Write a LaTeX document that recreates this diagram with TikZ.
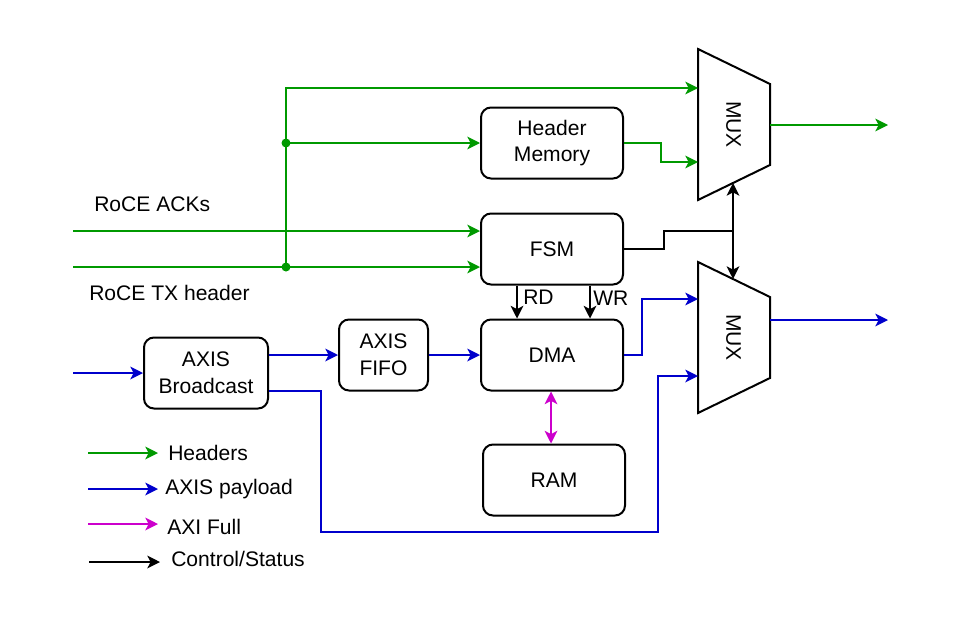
\documentclass[tikz,border=0pt]{standalone}
\usepackage{fontspec}
\setmainfont{Liberation Sans}
\usetikzlibrary{arrows.meta,calc}

\definecolor{hdrgreen}{RGB}{0,153,0}
\definecolor{payblue}{RGB}{0,0,204}
\definecolor{aximag}{RGB}{204,0,204}

\tikzset{
  >={Stealth[length=9.5pt,width=9.5pt,inset=2.5pt]},
  blk/.style={draw, rounded corners=7.5pt, line width=1.5pt, align=center,
    minimum width=106.5pt, minimum height=53.25pt, font=\fontsize{15.8}{20}\selectfont},
  lbl/.style={inner sep=0.75pt, font=\fontsize{15.8}{20}\selectfont},
  hdr/.style={draw=hdrgreen, line width=1.5pt},
  pay/.style={draw=payblue, line width=1.5pt},
  axi/.style={draw=aximag, line width=1.5pt},
  ctl/.style={draw=black, line width=1.5pt},
}

\begin{document}
\begin{tikzpicture}[x=0.75pt,y=0.75pt,yscale=-1,xscale=1]
\useasboundingbox (0,0) rectangle (962,639);

% Blocks
\node [blk] (hdrmem) at (552,143) {Header\\Memory};
\node [blk] (fsm) at (552,249) {FSM};
\node [blk] (dma) at (552,355) {DMA};
\node [blk] (ram) at (554,480) {RAM};
\node [blk, minimum width=66.75pt] (fifo) at (383.5,355) {AXIS\\FIFO};
\node [blk, minimum width=93pt] (bcast) at (206,373) {AXIS\\Broadcast};

% Muxes
\draw [line width=1.5pt] (698,49) -- (770,84) -- (770,165) -- (698,200) -- cycle;
\node [lbl, rotate=-90] (mux1) at (733.5,124.5) {MUX};
\draw [line width=1.5pt] (698,262) -- (770,297) -- (770,378) -- (698,413) -- cycle;
\node [lbl, rotate=-90] (mux2) at (733.5,337.5) {MUX};
\coordinate (mux1in1) at (698,88);
\coordinate (mux1in2) at (698,162);
\coordinate (mux1out) at (770,125);
\coordinate (mux1sel) at (733,183);
\coordinate (mux2in1) at (698,299);
\coordinate (mux2in2) at (698,376);
\coordinate (mux2out) at (770,320);
\coordinate (mux2sel) at (733,279);

% Free ends
\coordinate (ackin) at (73,231);
\coordinate (txin) at (73,267);
\coordinate (axisin) at (73,373);
\coordinate (out1) at (888,125);
\coordinate (out2) at (888,320);
\coordinate (jtx) at (286,267);
\coordinate (jmem) at (286,143);
\coordinate (jsel) at (733,231);

% Text Node
\node [lbl, anchor=west] (acklbl) at (93,204) {RoCE ACKs};
% Text Node
\node [lbl, anchor=west] (txlbl) at (88,293) {RoCE TX header};
% Text Node
\node [lbl, anchor=west] (rdlbl) at (522,297) {RD};
% Text Node
\node [lbl, anchor=west] (wrlbl) at (592,298) {WR};

% Headers
\draw [hdr,->] (ackin) -- (fsm.west |- ackin);
\draw [hdr,->] (txin) -- (fsm.west |- txin);
\draw [hdr,->] (jtx) |- (mux1in1);
\draw [hdr,->] (jmem) -- (hdrmem.west);
\fill [hdrgreen] (jtx) circle (4.5) (jmem) circle (4.5);
\draw [hdr,->] (hdrmem.east) -- ++(37,0) |- (mux1in2);
\draw [hdr,->] (mux1out) -- (out1);

% Control
\draw [ctl] (fsm.east) -- ++(40,0) |- (jsel);
\draw [ctl,<->] (mux1sel) -- (mux2sel);
\draw [ctl,->] ($(fsm.south west)+(37,0)$) -- ($(dma.north west)+(37,0)$);
\draw [ctl,->] ($(fsm.south east)+(-34,0)$) -- ($(dma.north east)+(-34,0)$);

% Payload
\draw [pay,->] (axisin) -- (bcast.west |- axisin);
\draw [pay,->] (bcast.east |- fifo.west) -- (fifo.west);
\draw [pay,->] (fifo) -- (dma);
\draw [pay,->] ($(bcast.east)+(0,18)$) -| (321,532) -| (658,376) -- (mux2in2);
\draw [pay,->] (dma.east) -- ++(18,0) |- (mux2in1);
\draw [pay,->] (mux2out) -- (out2);

% AXI Full
\draw [axi,<->] (dma.south -| 551,0) -- (ram.north -| 551,0);

% Legend
\coordinate (lg1a) at (88,453);
\coordinate (lg1b) at (158,453);
\node [lbl, anchor=west] (lg1) at (167,453) {Headers};
\draw [hdr,->] (lg1a) -- (lg1b);
\coordinate (lg2a) at (88,489);
\coordinate (lg2b) at (158,489);
\node [lbl, anchor=west] (lg2) at (164,489) {AXIS payload};
\draw [pay,->] (lg2a) -- (lg2b);
\coordinate (lg3a) at (88,524);
\coordinate (lg3b) at (158,524);
\node [lbl, anchor=west] (lg3) at (166,527) {AXI Full};
\draw [axi,->] (lg3a) -- (lg3b);
\coordinate (lg4a) at (89,562);
\coordinate (lg4b) at (160,562);
\node [lbl, anchor=west] (lg4) at (170,559) {Control/Status};
\draw [ctl,->] (lg4a) -- (lg4b);

\end{tikzpicture}
\end{document}
